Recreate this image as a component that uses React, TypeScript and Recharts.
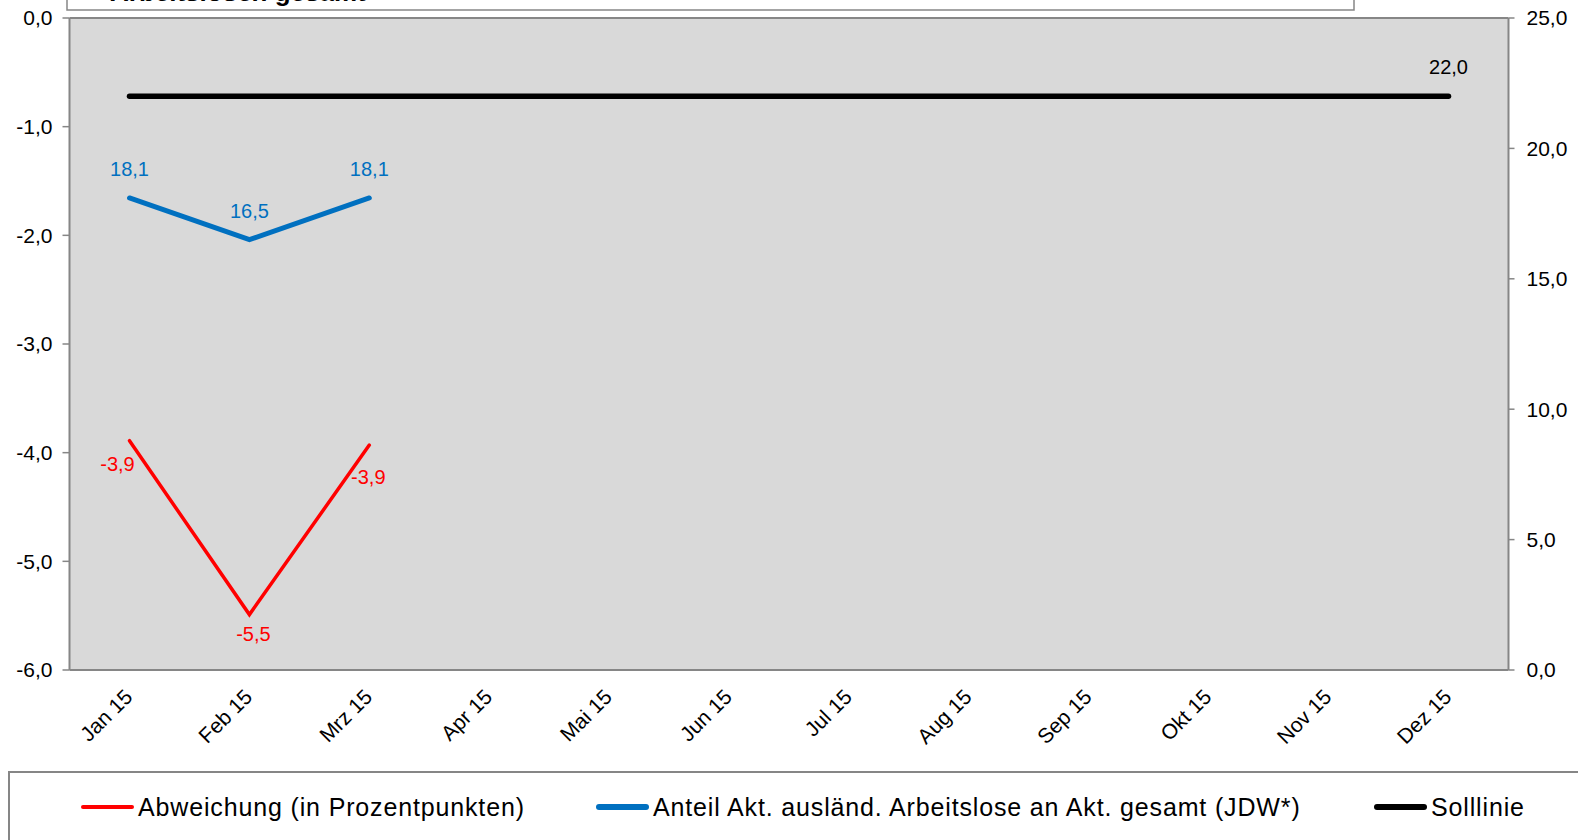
import React from "react";
import {
  LineChart,
  Line,
  XAxis,
  YAxis,
  CartesianGrid,
  ReferenceLine,
} from "recharts";

const months = [
  "Jan 15", "Feb 15", "Mrz 15", "Apr 15", "Mai 15", "Jun 15",
  "Jul 15", "Aug 15", "Sep 15", "Okt 15", "Nov 15", "Dez 15",
];
const abweichung = [-3.89, -5.49, -3.93, null, null, null, null, null, null, null, null, null];
const anteil = [18.1, 16.5, 18.1, null, null, null, null, null, null, null, null, null];
const solllinie = [22, 22, 22, 22, 22, 22, 22, 22, 22, 22, 22, 22];
const leftTicks = [-6, -5, -4, -3, -2, -1, 0];
const rightTicks = [0, 5, 10, 15, 20, 25];

const data = months.map((m, i) => ({
  month: m,
  abw: abweichung[i],
  ant: anteil[i],
  soll: solllinie[i],
}));

const FONT = "'Liberation Sans', Arial, sans-serif";
const GRAY = "#868686";
const fmt = (v: number) => v.toFixed(1).replace(".", ",");

// label offsets per point, relative to the point
const redOff = [
  [-12, 23],
  [4, 19],
  [-1, 32],
];

function XTick(props: any) {
  const { x, y, payload } = props;
  return (
    <g transform={`translate(${x - 1},${y + 15})`}>
      <text
        x={0}
        y={0}
        dy="0.35em"
        textAnchor="end"
        transform="rotate(-45)"
        fontSize={21}
        fontFamily={FONT}
        fill="#000"
      >
        {payload.value}
      </text>
    </g>
  );
}

const makeLabel =
  (color: string, offsets: (i: number) => number[] | null) => (props: any) => {
    const { x, y, value, index } = props;
    if (value == null || x == null || y == null) return null;
    const off = offsets(index);
    if (!off) return null;
    return (
      <text
        key={index}
        x={x + off[0]}
        y={y + off[1]}
        textAnchor="middle"
        dominantBaseline="central"
        fontSize={20}
        fontFamily={FONT}
        fill={color}
      >
        {fmt(value)}
      </text>
    );
  };

const legendItems = [
  { label: "Abweichung (in Prozentpunkten)", color: "#ff0000", w: 4, x: 81 },
  { label: "Anteil Akt. ausländ. Arbeitslose an Akt. gesamt (JDW*)", color: "#0070c0", w: 6, x: 596 },
  { label: "Solllinie", color: "#000000", w: 6, x: 1374 },
];

export default function App() {
  return (
    <div
      style={{
        position: "absolute",
        left: 0,
        top: 0,
        width: 1578,
        height: 840,
        overflow: "hidden",
        background: "#fff",
        fontFamily: FONT,
      }}
    >
      <div style={{ position: "absolute", left: 0, top: 0 }}>
        <LineChart
          width={1578}
          height={840}
          data={data}
          margin={{ top: 18, right: 0, bottom: 0, left: 0 }}
        >
          <CartesianGrid
            fill="#d9d9d9"
            horizontal={false}
            vertical={false}
            yAxisId="left"
          />
          <XAxis
            dataKey="month"
            height={170}
            padding={{ left: 60, right: 60 }}
            tick={<XTick />}
            tickLine={false}
            axisLine={{ stroke: GRAY, strokeWidth: 2 }}
            interval={0}
          />
          <YAxis
            yAxisId="left"
            orientation="left"
            width={69.5}
            domain={[-6, 0]}
            ticks={leftTicks}
            tickFormatter={fmt}
            tickSize={7}
            tickMargin={10}
            tick={{ fill: "#000", fontSize: 21, fontFamily: FONT }}
            tickLine={{ stroke: GRAY, strokeWidth: 1.5 }}
            axisLine={{ stroke: GRAY, strokeWidth: 2 }}
          />
          <YAxis
            yAxisId="right"
            orientation="right"
            width={69.5}
            domain={[0, 25]}
            ticks={rightTicks}
            tickFormatter={fmt}
            tickSize={6}
            tickMargin={12}
            tick={{ fill: "#000", fontSize: 21, fontFamily: FONT, textAnchor: "start" }}
            tickLine={{ stroke: GRAY, strokeWidth: 1.5 }}
            axisLine={{ stroke: GRAY, strokeWidth: 2 }}
          />
          <ReferenceLine yAxisId="left" y={0} stroke={GRAY} strokeWidth={2} />
          <Line
            yAxisId="right"
            dataKey="soll"
            type="linear"
            stroke="#000"
            strokeWidth={5.5}
            strokeLinecap="round"
            dot={false}
            isAnimationActive={false}
            label={makeLabel("#000", (i) => (i === 11 ? [0, -29] : null))}
          />
          <Line
            yAxisId="right"
            dataKey="ant"
            type="linear"
            stroke="#0070c0"
            strokeWidth={5}
            strokeLinecap="round"
            dot={false}
            isAnimationActive={false}
            label={makeLabel("#0070c0", () => [0, -29])}
          />
          <Line
            yAxisId="left"
            dataKey="abw"
            type="linear"
            stroke="#ff0000"
            strokeWidth={3.5}
            strokeLinecap="round"
            dot={false}
            isAnimationActive={false}
            label={makeLabel("#ff0000", (i) => redOff[i] ?? null)}
          />
        </LineChart>
      </div>

      {/* title box, cut off at the top edge as in the original */}
      <svg
        width={1578}
        height={16}
        style={{ position: "absolute", left: 0, top: 0 }}
      >
        <rect x={67} y={-60} width={1287} height={70} fill="#fff" stroke={GRAY} strokeWidth={1.5} />
        <text x={110} y={1} fontSize={26} fontWeight="bold" fontFamily={FONT} fill="#000">
          Arbeitslosen gesamt
        </text>
      </svg>

      {/* legend box */}
      <div
        style={{
          position: "absolute",
          left: 8,
          top: 771,
          width: 1600,
          height: 100,
          border: `2px solid ${GRAY}`,
          boxSizing: "border-box",
        }}
      />
      {legendItems.map((it) => (
        <div
          key={it.label}
          style={{
            position: "absolute",
            left: it.x,
            top: 793,
            height: 28,
            display: "flex",
            alignItems: "center",
            whiteSpace: "nowrap",
          }}
        >
          <div
            style={{
              width: 53,
              height: it.w,
              background: it.color,
              borderRadius: it.w / 2,
              marginRight: 4,
            }}
          />
          <span style={{ fontSize: 25, letterSpacing: 0.85, color: "#000" }}>
            {it.label}
          </span>
        </div>
      ))}
    </div>
  );
}
